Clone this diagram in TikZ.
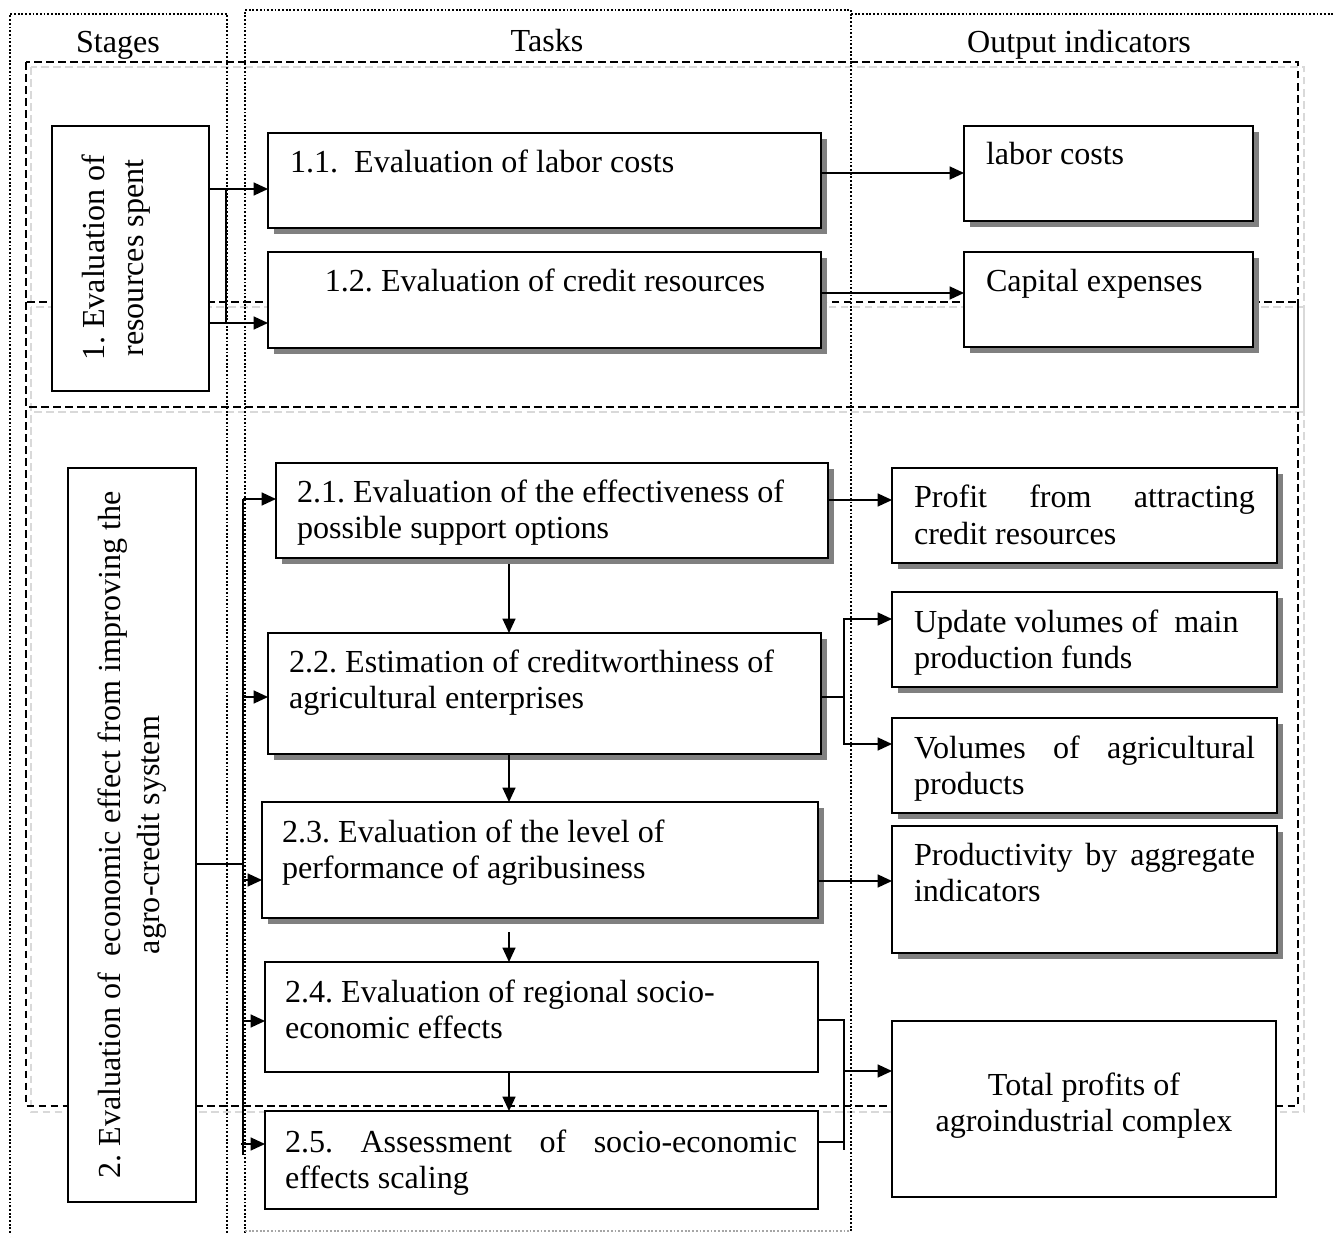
\documentclass[tikz,border=0pt]{standalone}
\usepackage{fontspec}
\setmainfont{Liberation Serif}
\usetikzlibrary{arrows.meta,shadows,calc}

\newlength\px
\setlength\px{0.433pt}
% two stacked lines, anchored on the first baseline
\newcommand\twolines[2]{\vtop{\hbox{#1}\hbox{#2}}}
% two stacked lines centred on the anchor
\newcommand\twocentred[2]{\vtop{\hbox to 0pt{\hss#1\hss}\hbox to 0pt{\hss#2\hss}}}
% a line spread to a given width (in px units)
\newcommand\spreadline[2]{\hbox to #1\px{#2}}
% framed node from its corners (x1,y1)-(x2,y2)
\newcommand\cornerbox[6]{%
  \node[boxbase,#6,minimum width={(#4-#2)*\px},minimum height={(#5-#3)*\px}] (#1) at (#2,#3) {};}

\begin{document}
\frenchspacing
\begin{tikzpicture}[x=\px,y=-\px,
  font=\fontsize{13.9pt}{15.8pt}\selectfont,
  boxbase/.style={draw=black, line width=0.9pt, fill=white, inner sep=0pt, outer sep=0pt, anchor=north west},
  stagebox/.style={line width=0.7pt},
  shadowed/.style={drop shadow={shadow xshift=2.6pt, shadow yshift=-2.6pt, fill=black!50, opacity=1}},
  txt/.style={inner sep=0pt, outer sep=0pt, anchor=base west},
  frame/.style={draw=black, line width=0.6pt, dash pattern=on 3.4pt off 1.8pt},
  frameshade/.style={draw=black!15, line width=0.6pt, dash pattern=on 3.4pt off 1.8pt},
  column/.style={draw=black, line width=1pt, dash pattern=on 0.8pt off 0.8pt},
  conn/.style={draw=black, line width=0.65pt},
  arr/.style={conn, -{Triangle[length=6.2pt,width=5.6pt]}}
]
\fill[white] (0,0) rectangle (1333,1233);
\useasboundingbox (0,0) rectangle (1333,1233);

% stage frames (light offset copy underneath)
\draw[frameshade] (31,67) rectangle (1304,412);
\draw[frameshade] (31,307) rectangle (1304,1112);
\draw[frame] (26,62) rectangle (1298,407);
\draw[frame] (26,302) rectangle (1298,1106);

% column borders
\draw[column] (10,1233) -- (10,14) -- (227,14) -- (227,1233);
\draw[column] (245,1233) -- (245,10) -- (851,10) -- (851,1233);
\draw[column] (851,14) -- (1333,14);
\draw[column, draw=black!35] (245,1231) -- (851,1231);

% column headings
\node[txt, anchor=base] (hstages) at (118,53) {Stages};
\node[txt, anchor=base] (htasks) at (547,52) {Tasks};
\node[txt, anchor=base] (houtput) at (1079,53) {Output indicators};

% stages
\cornerbox{s1}{52}{126}{209}{391}{stagebox}
\cornerbox{s2}{68}{468}{196}{1202}{stagebox}
\node[rotate=90, align=center, inner sep=0pt, font=\fontsize{13.9pt}{17pt}\selectfont] (s1l) at (116,258) {1. Evaluation of\\resources spent};
\node[rotate=90, align=center, inner sep=0pt, font=\fontsize{13.9pt}{17pt}\selectfont] (s2l) at (132,835) {2. Evaluation of\ \ economic effect from improving the\\agro-credit system};

% tasks
\cornerbox{t11}{268}{133}{821}{228}{shadowed}
\cornerbox{t12}{268}{252}{821}{348}{shadowed}
\cornerbox{t21}{276}{463}{828}{558}{shadowed}
\cornerbox{t22}{268}{633}{821}{754}{shadowed}
\cornerbox{t23}{262}{802}{818}{918}{shadowed}
\cornerbox{t24}{265}{962}{818}{1072}{}
\cornerbox{t25}{265}{1111}{818}{1209}{}

\node[txt] (t11l) at (290,173) {1.1.\ \ Evaluation of labor costs};
\node[txt, anchor=base] (t12l) at (545,292) {1.2. Evaluation of credit resources};
\node[txt] (t21l) at (297,502) {\twolines{2.1. Evaluation of the effectiveness of}{possible support options}};
\node[txt] (t22l) at (289,672) {\twolines{2.2. Estimation of creditworthiness of}{agricultural enterprises}};
\node[txt] (t23l) at (282,842) {\twolines{2.3. Evaluation of the level of}{performance of agribusiness}};
\node[txt] (t24l) at (285,1002) {\twolines{2.4. Evaluation of regional socio-}{economic effects}};
\node[txt] (t25l) at (285,1152) {\twolines{\spreadline{512}{2.5.\hfill Assessment\hfill of\hfill socio-economic}}{effects scaling}};

% output indicators
\cornerbox{o1}{964}{126}{1253}{221}{shadowed}
\cornerbox{o2}{964}{252}{1253}{347}{shadowed}
\cornerbox{o3}{892}{468}{1277}{563}{shadowed}
\cornerbox{o4}{892}{592}{1277}{687}{shadowed}
\cornerbox{o5}{892}{718}{1277}{813}{shadowed}
\cornerbox{o6}{892}{826}{1277}{953}{shadowed}
\cornerbox{o7}{892}{1021}{1276}{1197}{}

\node[txt] (o1l) at (986,165) {labor costs};
\node[txt] (o2l) at (986,292) {Capital expenses};
\node[txt] (o3l) at (914,508) {\twolines{\spreadline{341}{Profit\hfill from\hfill attracting}}{credit resources}};
\node[txt] (o4l) at (914,632) {\twolines{Update volumes of\ \ main}{production funds}};
\node[txt] (o5l) at (914,758) {\twolines{\spreadline{341}{Volumes\hfill of\hfill agricultural}}{products}};
\node[txt] (o6l) at (914,865) {\twolines{\spreadline{341}{Productivity\hfill by\hfill aggregate}}{indicators}};
\node[txt, anchor=base] (o7l) at (1084,1095) {\twocentred{Total profits of}{agroindustrial complex}};

% stage 1 links
\coordinate (j1a) at (226,189);
\coordinate (j1b) at (226,323);
\draw[conn] (j1a) -- (j1b);
\draw[arr] (s1.east |- j1a) -- (t11.west |- j1a);
\draw[arr] (s1.east |- j1b) -- (t12.west |- j1b);
\draw[arr] (t11.east |- 0,173) -- (o1.west |- 0,173);
\draw[arr] (t12.east |- 0,293) -- (o2.west |- 0,293);

% stage 2 bus
\coordinate (bus) at (243,864);
\coordinate (bustop) at (243,499);
\coordinate (busbot) at (243,1155);
\draw[conn] (s2.east |- bus) -- (bus);
\draw[conn] (bustop) -- (busbot);
\draw[arr] (bustop) -- (t21.west |- bustop);
\draw[arr] (bustop |- 0,697) -- (t22.west |- 0,697);
\draw[arr] (bustop |- 0,880) -- (t23.west |- 0,880);
\draw[arr] (bustop |- 0,1021) -- (t24.west |- 0,1021);
\draw[arr] (241,1144) -- (t25.west |- 0,1144);

% task sequence
\draw[arr] ($(t21.south -| 509,0)+(0,6)$) -- (t22.north -| 509,0);
\draw[arr] (t22.south -| 509,0) -- (t23.north -| 509,0);
\draw[arr] ($(t23.south -| 509,0)+(0,14)$) -- (t24.north -| 509,0);
\draw[arr] (t24.south -| 509,0) -- (t25.north -| 509,0);

% task outputs
\draw[arr] (t21.east |- 0,500) -- (o3.west |- 0,500);
\coordinate (f2) at (844,697);
\draw[conn] (t22.east |- f2) -- (f2);
\draw[arr] (f2) |- (o4.west |- 0,619);
\draw[arr] (f2) |- (o5.west |- 0,744);
\draw[arr] (t23.east |- 0,881) -- (o6.west |- 0,881);
\coordinate (f4) at (844,1071);
\draw[conn] (t24.east |- 0,1020) -| (844,1150);
\draw[conn] (t25.east |- 0,1142) -- (844,1142);
\draw[arr] (f4) -- (o7.west |- f4);
\end{tikzpicture}
\end{document}
